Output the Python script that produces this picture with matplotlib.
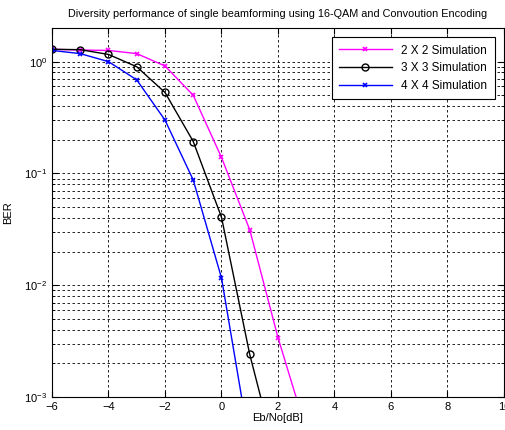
import numpy as np
import matplotlib
matplotlib.use("Agg")
import matplotlib.pyplot as plt
from matplotlib.ticker import LogLocator, FixedLocator, NullFormatter

plt.rcParams['font.family'] = ['Liberation Sans', 'DejaVu Sans']

snr = [-6, -5, -4, -3, -2, -1, 0, 1, 2, 3]
ber_2x2 = [1.29, 1.27, 1.26, 1.18, 0.915, 0.50, 0.139, 0.0313, 0.0034, 0.0005]
snr_3x3 = [-6, -5, -4, -3, -2, -1, 0, 1, 2]
ber_3x3 = [1.29, 1.28, 1.16, 0.90, 0.53, 0.193, 0.0405, 0.0024, 0.00025]
snr_4x4 = [-6, -5, -4, -3, -2, -1, 0, 1]
ber_4x4 = [1.26, 1.18, 1.0, 0.687, 0.30, 0.0873, 0.0116, 0.00037]

labels = ['2 X 2 Simulation', '3 X 3 Simulation', '4 X 4 Simulation']
x_ticks = [-6, -4, -2, 0, 2, 4, 6, 8, 10]

fig = plt.figure(figsize=(5.06, 4.30), dpi=100)
ax = fig.add_axes([52/506, 33/430, 452/506, 369/430])

ax.semilogy(snr, ber_2x2, '-x', color='#ff00ff', lw=1.0, ms=3, mew=1.2, label=labels[0])
ax.semilogy(snr_3x3, ber_3x3, '-o', color='black', lw=1.0, ms=5, mfc='none', mew=1.0, label=labels[1])
ax.semilogy(snr_4x4, ber_4x4, '-x', color='#0000ff', lw=1.0, ms=3, mew=1.2, label=labels[2])

ax.set_xlim(-6, 10)
ax.set_ylim(1e-3, 2)
ax.xaxis.set_major_locator(FixedLocator(x_ticks))
ax.yaxis.set_major_locator(LogLocator(base=10, numticks=10))
ax.yaxis.set_minor_locator(LogLocator(base=10, subs=np.arange(2, 10), numticks=20))
ax.yaxis.set_minor_formatter(NullFormatter())

ax.grid(True, which='major', linestyle=(0, (3, 3)), color='black', lw=0.6)
ax.grid(True, which='minor', axis='y', linestyle=(0, (3, 3)), color='black', lw=0.6)
ax.tick_params(which='both', direction='in', top=True, right=True, labelsize=8)
ax.tick_params(which='major', length=4)
ax.tick_params(which='minor', length=2)

ax.set_xlabel('Eb/No[dB]', fontsize=8, labelpad=1)
ax.set_ylabel('BER', fontsize=8, labelpad=8)
ax.set_title('Diversity performance of single beamforming using 16-QAM and Convoution Encoding',
             fontsize=7.8, pad=8)

leg = ax.legend(loc='upper right', fontsize=8.5, fancybox=False, framealpha=1,
                edgecolor='black', borderaxespad=0.8, handlelength=4.5,
                labelspacing=0.5, borderpad=0.6)
leg.get_frame().set_linewidth(0.8)

fig.savefig('out.png', dpi=100)
